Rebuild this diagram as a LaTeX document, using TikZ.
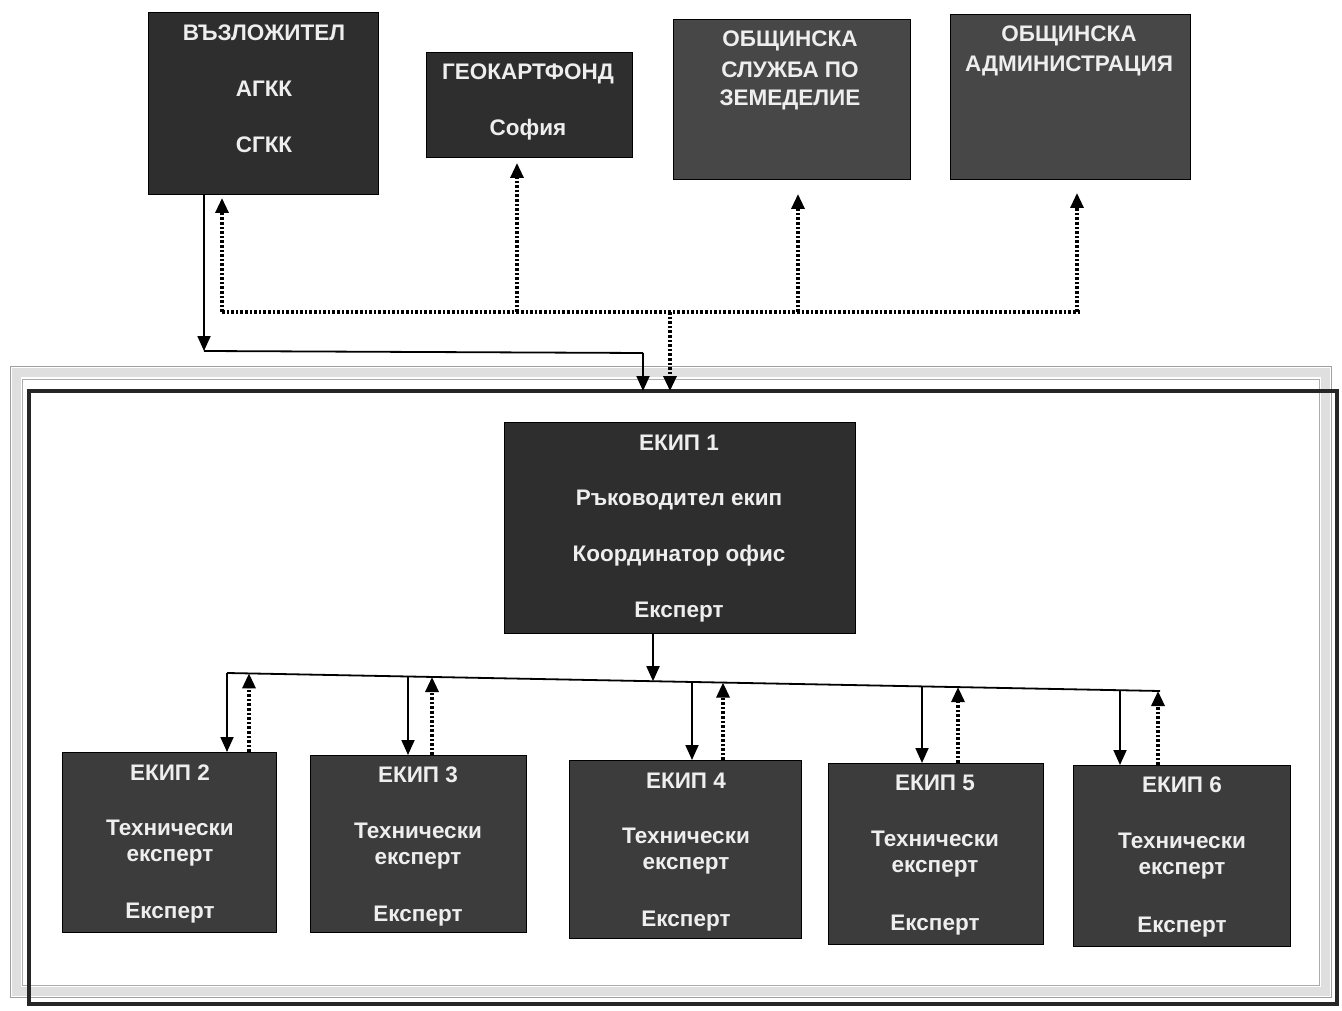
\documentclass[tikz,border=0pt]{standalone}
\usepackage{fontspec}
\setmainfont{Liberation Sans}
\usetikzlibrary{arrows.meta,calc}
\definecolor{boxA}{HTML}{2E2E2E}
\definecolor{boxB}{HTML}{474747}
\definecolor{boxC}{HTML}{3C3C3C}
\definecolor{txtc}{HTML}{EEEEEE}
\begin{document}
\begin{tikzpicture}[x=1pt,y=-1pt,
  box/.style={draw=black, line width=1pt, rectangle, inner sep=0pt, outer sep=0pt},
  txt/.style={text=txtc, font=\bfseries\fontsize{22.5}{26}\selectfont, inner sep=0pt},
  sline/.style={line width=1.8pt, black},
  sarr/.style={line width=1.8pt, black, -{Triangle[length=15pt,width=13pt]}},
  dline/.style={line width=3.2pt, black, dash pattern=on 2.6pt off 2pt},
  darr/.style={line width=3.2pt, black, dash pattern=on 2.6pt off 2pt, -{Triangle[length=15pt,width=13pt]}}
]
\useasboundingbox (0,0) rectangle (1342,1011);
\fill[white] (0,0) rectangle (1342,1011);

% ---- frame ----
\draw[gray!25, line width=9pt] (16,372) rectangle (1325,991);
\draw[gray!75, line width=1pt] (10,366) rectangle (1331,997);
\draw[gray!65, line width=1pt] (22,379) rectangle (1319,985);
\node[draw=black!85, line width=3.5pt, rectangle, inner sep=0pt, outer sep=0pt,
      minimum width=1308, minimum height=613] (frame) at (683,697.5) {};

% ---- top boxes ----
\node[box, fill=boxA, minimum width=230, minimum height=182] (vaz) at (263,104) {};
\node[txt] (vazT) at (264,33) {ВЪЗЛОЖИТЕЛ};
\node[txt] (vazA) at (264,89) {АГКК};
\node[txt] (vazS) at (264,145) {СГКК};

\node[box, fill=boxA, minimum width=206, minimum height=105] (geo) at (529,105.5) {};
\node[txt] (geoT) at (528,74) {ГЕОКАРТФОНД};
\node[txt] (geoS) at (528,130) {София};

\node[box, fill=boxB, minimum width=237, minimum height=160] (obs) at (791.5,100) {};
\node[txt] (obs1) at (790,41) {ОБЩИНСКА};
\node[txt] (obs2) at (790,70) {СЛУЖБА ПО};
\node[txt] (obs3) at (790,100) {ЗЕМЕДЕЛИЕ};

\node[box, fill=boxB, minimum width=240, minimum height=165] (adm) at (1070,97.5) {};
\node[txt] (adm1) at (1069,36) {ОБЩИНСКА};
\node[txt] (adm2) at (1069,66) {АДМИНИСТРАЦИЯ};

% ---- team 1 ----
\node[box, fill=boxA, minimum width=351, minimum height=211] (e1) at (679.5,527.5) {};
\node[txt] (e1a) at (679,443) {ЕКИП 1};
\node[txt] (e1b) at (679,500) {Ръководител екип};
\node[txt] (e1c) at (679,556) {Координатор офис};
\node[txt] (e1d) at (679,612) {Експерт};

% ---- teams 2-6 ----
\node[box, fill=boxC, minimum width=214, minimum height=180] (e2) at (169,842) {};
\node[txt] (e2a) at (170,773) {ЕКИП 2};
\node[txt] (e2b) at (170,828) {Технически};
\node[txt] (e2c) at (170,858) {експерт};
\node[txt] (e2d) at (170,913) {Експерт};

\node[box, fill=boxC, minimum width=216, minimum height=177] (e3) at (418,843.5) {};
\node[txt] (e3a) at (418,775) {ЕКИП 3};
\node[txt] (e3b) at (418,831) {Технически};
\node[txt] (e3c) at (418,861) {експерт};
\node[txt] (e3d) at (418,916) {Експерт};

\node[box, fill=boxC, minimum width=232, minimum height=178] (e4) at (685,849) {};
\node[txt] (e4a) at (686,781) {ЕКИП 4};
\node[txt] (e4b) at (686,836) {Технически};
\node[txt] (e4c) at (686,866) {експерт};
\node[txt] (e4d) at (686,921) {Експерт};

\node[box, fill=boxC, minimum width=215, minimum height=181] (e5) at (935.5,853.5) {};
\node[txt] (e5a) at (935,783) {ЕКИП 5};
\node[txt] (e5b) at (935,839) {Технически};
\node[txt] (e5c) at (935,869) {експерт};
\node[txt] (e5d) at (935,925) {Експерт};

\node[box, fill=boxC, minimum width=217, minimum height=181] (e6) at (1181.5,855.5) {};
\node[txt] (e6a) at (1182,785) {ЕКИП 6};
\node[txt] (e6b) at (1182,841) {Технически};
\node[txt] (e6c) at (1182,871) {експерт};
\node[txt] (e6d) at (1182,927) {Експерт};

% ---- top connectors ----
\coordinate (j1) at (204,351);
\coordinate (j2) at (643,353);
\draw[sarr] (vaz.south -| j1) -- (j1);
\draw[sline] (j1) -- (j2);
\draw[sarr] (j2) -- (j2 |- frame.north);

\coordinate (d0) at (222,312);
\coordinate (d1) at (1080,312);
\coordinate (dg) at (517,312);
\coordinate (do) at (798,312);
\coordinate (da) at (1077,312);
\coordinate (dd) at (670,312);
\draw[dline] (d0) -- (d1);
\draw[darr, shorten >=3pt] (d0) -- (d0 |- vaz.south);
\draw[darr, shorten >=5pt] (dg) -- (dg |- geo.south);
\draw[darr, shorten >=14pt] (do) -- (do |- obs.south);
\draw[darr, shorten >=13pt] (da) -- (da |- adm.south);
\draw[darr] (dd) -- (dd |- frame.north);

% ---- bus ----
\coordinate (bL) at (227,673);
\coordinate (bR) at (1160,691);
\draw[sline] (bL) -- (bR);
\coordinate (m1) at (653,681.2);
\draw[sarr] (m1 |- e1.south) -- (m1);

\coordinate (s2) at (227,673);   \coordinate (u2) at (249,673.4);
\coordinate (s3) at (408,676.5); \coordinate (u3) at (432,677.0);
\coordinate (s4) at (692,682.0); \coordinate (u4) at (723,682.6);
\coordinate (s5) at (922,686.4); \coordinate (u5) at (958,687.1);
\coordinate (s6) at (1120,690.2);\coordinate (u6) at (1158,691.0);

\draw[sarr] (s2) -- (s2 |- e2.north);
\draw[darr] (e2.north -| u2) -- (u2);
\draw[sarr] (s3) -- (s3 |- e3.north);
\draw[darr] (e3.north -| u3) -- (u3);
\draw[sarr] (s4) -- (s4 |- e4.north);
\draw[darr] (e4.north -| u4) -- (u4);
\draw[sarr] (s5) -- (s5 |- e5.north);
\draw[darr] (e5.north -| u5) -- (u5);
\draw[sarr] (s6) -- (s6 |- e6.north);
\draw[darr] (e6.north -| u6) -- (u6);
\end{tikzpicture}
\end{document}
